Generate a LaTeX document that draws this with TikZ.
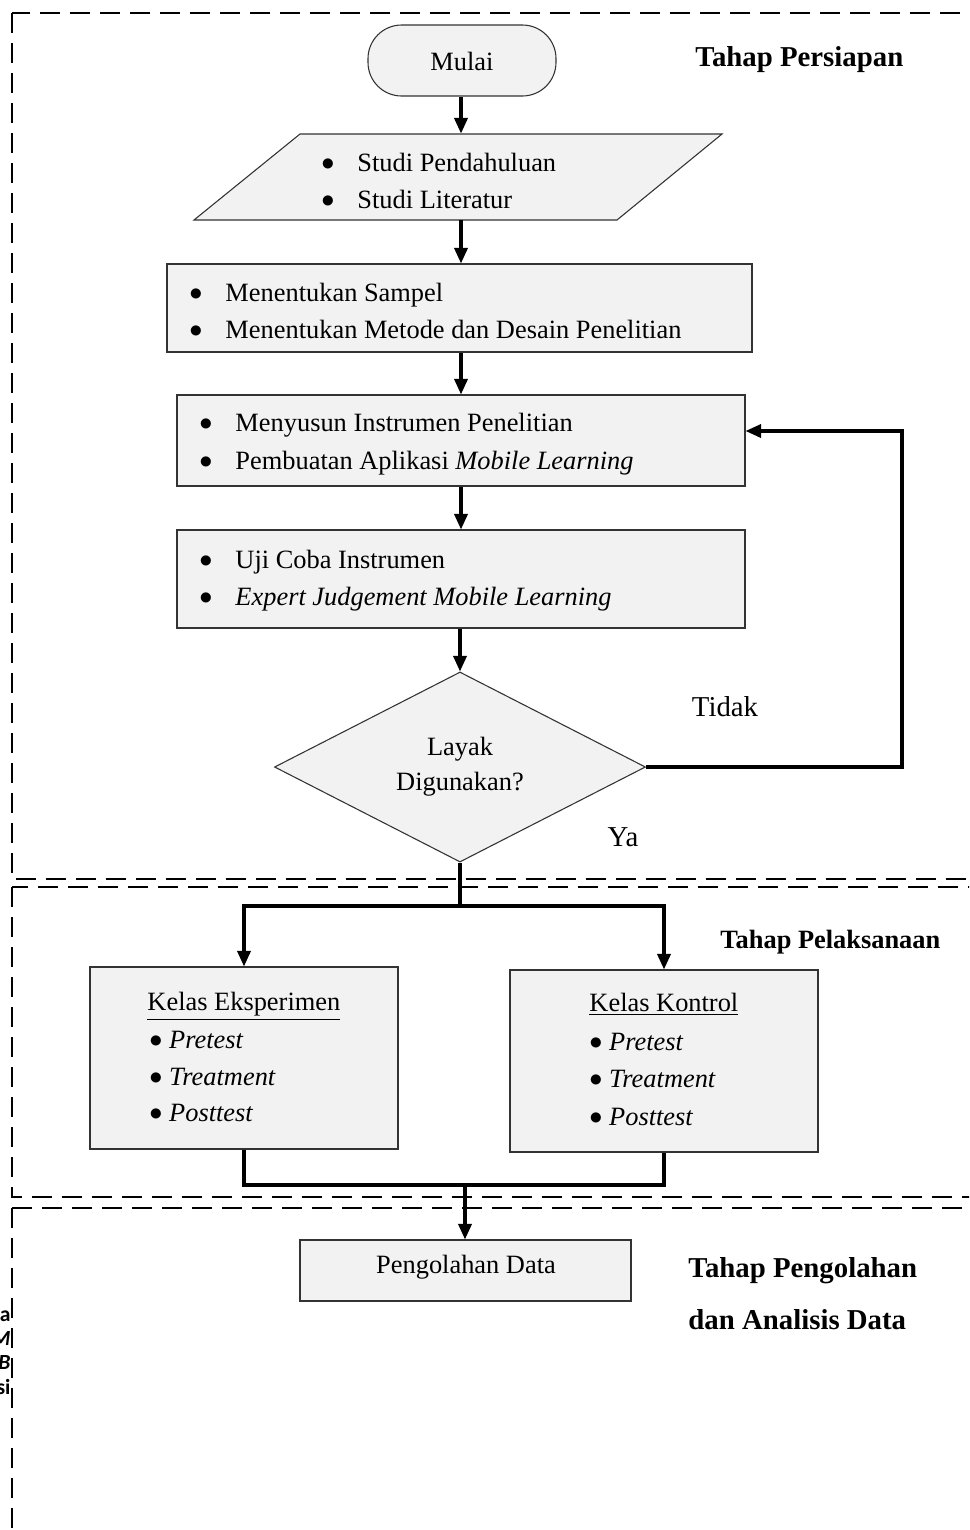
\documentclass[tikz,border=0pt]{standalone}
\usepackage{fontspec}
\setmainfont{Liberation Serif}
\newfontfamily\fragfont{Carlito}
\usetikzlibrary{arrows.meta,shapes.geometric,fit}
\newcommand{\bul}{\raisebox{0.2pt}{$\bullet$}}
\begin{document}
\begin{tikzpicture}[x=0.416667pt,y=-0.416667pt,
  box/.style={draw=black!80, fill=gray!10, line width=0.45pt, inner sep=0pt},
  conn/.style={line width=1.3pt, draw=black},
  arr/.style={conn, -{Triangle[length=6.5pt,width=5.5pt]}},
  frame/.style={line width=1.1pt, dash pattern=on 8.5pt off 4pt},
  txt/.style={font=\fontsize{11}{13}\selectfont, inner sep=0pt, anchor=base west},
  ctxt/.style={font=\fontsize{11}{13}\selectfont, inner sep=0pt, anchor=center},
  lbl/.style={font=\fontsize{12}{14}\selectfont\bfseries, inner sep=0pt, anchor=base west},
  frag/.style={font=\fragfont\bfseries\fontsize{9}{10}\selectfont, inner sep=0pt, anchor=east}]
\useasboundingbox (0,0) rectangle (969,1530);
\clip (0,0) rectangle (969,1530);

% section frames
\draw[frame] (12,13) rectangle (1000,879);
\draw[frame] (12,887) rectangle (1000,1197);
\draw[frame] (12,1208) rectangle (1000,1640);

% start
\node[box, rounded corners=14pt, fit={(368,25)(556,96)}] (mulai) {};
\node[ctxt] (mulaitxt) at (462,61) {Mulai};

% parallelogram
\draw[box] (300,134) -- (722,134) -- (617,220) -- (194,220) -- cycle;
\node[inner sep=0pt, fit={(194,134)(722,220)}] (par) {};
\node[txt] (p1) at (321,171) {\makebox[15pt][l]{\bul}Studi Pendahuluan};
\node[txt] (p2) at (321,208) {\makebox[15pt][l]{\bul}Studi Literatur};

% box 1
\node[box, fit={(167,264)(752,352)}] (b1) {};
\node[txt] (b1a) at (189,301) {\makebox[15pt][l]{\bul}Menentukan Sampel};
\node[txt] (b1b) at (189,338) {\makebox[15pt][l]{\bul}Menentukan Metode dan Desain Penelitian};

% box 2
\node[box, fit={(177,395)(745,486)}] (b2) {};
\node[txt] (b2a) at (199,431) {\makebox[15pt][l]{\bul}Menyusun Instrumen Penelitian};
\node[txt] (b2b) at (199,469) {\makebox[15pt][l]{\bul}Pembuatan Aplikasi \textit{Mobile Learning}};

% box 3
\node[box, fit={(177,530)(745,628)}] (b3) {};
\node[txt] (b3a) at (199,568) {\makebox[15pt][l]{\bul}Uji Coba Instrumen};
\node[txt] (b3b) at (199,605) {\makebox[15pt][l]{\bul}\textit{Expert Judgement Mobile Learning}};

% decision
\node[box, diamond, minimum width=154.6pt, minimum height=79.2pt, align=center,
      font=\fontsize{11}{14.6}\selectfont] (dia) at (460,767) {Layak\\Digunakan?};

% class boxes
\node[box, fit={(90,967)(398,1149)}] (ke) {};
\node[txt] (ket) at (147,1010) {\underline{Kelas Eksperimen}};
\node[txt] (ke1) at (149,1048) {\bul\ \textit{Pretest}};
\node[txt] (ke2) at (149,1085) {\bul\ \textit{Treatment}};
\node[txt] (ke3) at (149,1121) {\bul\ \textit{Posttest}};

\node[box, fit={(510,970)(818,1152)}] (kk) {};
\node[txt] (kkt) at (589,1011) {\underline{Kelas Kontrol}};
\node[txt] (kk1) at (589,1050) {\bul\ \textit{Pretest}};
\node[txt] (kk2) at (589,1087) {\bul\ \textit{Treatment}};
\node[txt] (kk3) at (589,1125) {\bul\ \textit{Posttest}};

% data processing
\node[box, fit={(300,1240)(631,1301)}] (pd) {};
\node[ctxt] (pdtxt) at (466,1267) {Pengolahan Data};

% stage labels
\node[lbl] (s1) at (695,66) {Tahap Persiapan};
\node[lbl, font=\fontsize{11}{13}\selectfont\bfseries] (s2) at (720,948) {Tahap Pelaksanaan};
\node[lbl] (s3a) at (688,1277) {Tahap Pengolahan};
\node[lbl] (s3b) at (688,1329) {dan Analisis Data};

% branch labels
\node[font=\fontsize{12}{14}\selectfont] (tidak) at (725,707) {Tidak};
\node[font=\fontsize{12}{14}\selectfont] (ya) at (623,837) {Ya};

% clipped fragments at left edge
\node[frag] (f1) at (11,1316) {a};
\node[frag] (f2) at (11,1338) {\itshape M};
\node[frag] (f3) at (11,1362) {\itshape B};
\node[frag] (f4) at (11,1387) {si};

% connectors
\coordinate (loop) at (902,431);
\coordinate (split) at (460,906);
\coordinate (merge) at (465,1185);

\draw[arr] (mulai.south -| 461,0) -- (461,0 |- par.north);
\draw[arr] (par.south -| 461,0) -- (461,0 |- b1.north);
\draw[arr] (b1.south -| 461,0) -- (461,0 |- b2.north);
\draw[arr] (b2.south -| 461,0) -- (461,0 |- b3.north);
\draw[arr] (b3.south -| 460,0) -- (dia.north);
\draw[arr] (dia.east) -| (loop) -- (b2.east |- loop);
\draw[conn] (dia.south) -- (split);
\draw[arr] (split) -| (ke.north);
\draw[arr] (split) -| (kk.north);
\draw[conn] (ke.south) |- (kk.south |- merge) -- (kk.south);
\draw[arr] (merge) -- (merge |- pd.north);
\end{tikzpicture}
\end{document}
